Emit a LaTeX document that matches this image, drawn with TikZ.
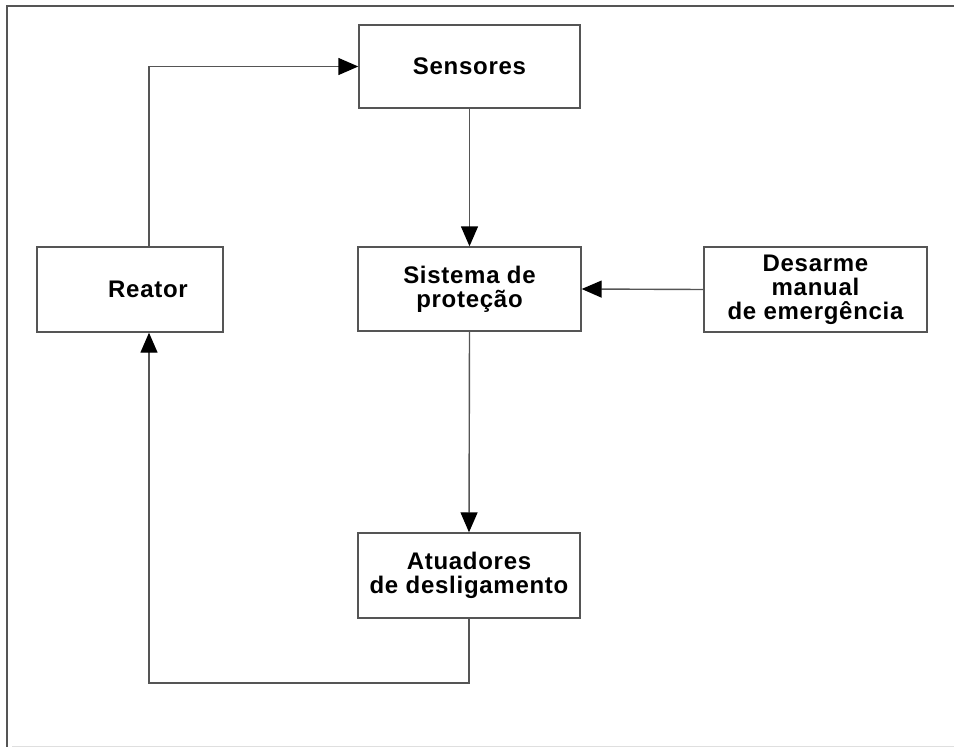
\documentclass[tikz,border=0pt]{standalone}
\usepackage{fontspec}
\setmainfont{Liberation Sans}
\usetikzlibrary{arrows.meta}
\definecolor{linecol}{RGB}{85,85,85}
\tikzset{
  box/.style={draw=linecol, line width=1.4pt, fill=white, rectangle, align=center,
    inner sep=0pt, font=\fontsize{24}{24}\selectfont\bfseries\addfontfeature{LetterSpace=3}},
  conn/.style={draw=linecol, line width=1.4pt},
  arr/.style={conn, -{Triangle[length=20pt,width=17pt,fill=black,color=black]}}
}
\begin{document}
\begin{tikzpicture}[x=1pt,y=-1pt]
\useasboundingbox (0,0) rectangle (954,747);
% frame
\coordinate (f1) at (7,747);
\coordinate (f2) at (7,6);
\coordinate (f3) at (954,6);
\draw[conn] (f1) -- (f2) -- (f3);
\coordinate (f4) at (12,746);
\coordinate (f5) at (954,746);
\draw[gray!25, line width=1pt] (f4) -- (f5);
% nodes
\node[box, minimum width=221pt, minimum height=83pt] (sens) at (469.5,66.5) {Sensores};
\node[box, minimum width=223pt, minimum height=84pt] (sis) at (469.5,289) {Sistema de\\proteção};
\node[box, minimum width=223pt, minimum height=85pt] (des) at (815.5,289.5) {Desarme\\manual\\de emergência};
\node[box, minimum width=222pt, minimum height=85pt] (atu) at (469,575.5) {Atuadores\\de desligamento};
\node[box, minimum width=186pt, minimum height=85pt] (rea) at (130,289.5) {\hspace*{36pt}Reator};
% connectors
\coordinate (c1) at (149,66.5);
\coordinate (c2) at (149,683);
\draw[arr] (rea.north -| c1) |- (sens.west);
\draw[arr] (sens.south) -- (sis.north);
\draw[arr] (sis.south) -- (atu.north);
\draw[arr] (des.west) -- (sis.east);
\draw[arr] (atu.south) |- (c2) -- (rea.south -| c2);
\end{tikzpicture}
\end{document}
